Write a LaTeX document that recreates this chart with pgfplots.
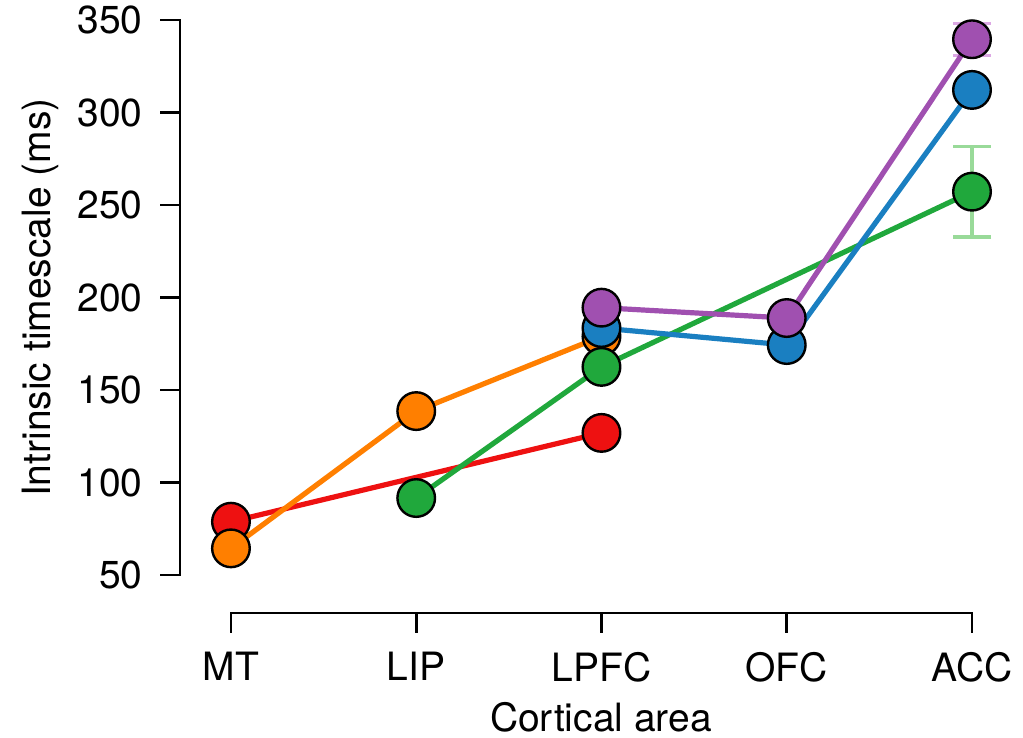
\documentclass[border=0pt]{standalone}
\usepackage{fontspec}
\setmainfont{TeX Gyre Heros}
\usepackage{pgfplots}
\pgfplotsset{compat=1.18}

\definecolor{cred}{HTML}{EE1111}
\definecolor{corange}{HTML}{FF7F00}
\definecolor{cgreen}{HTML}{20A83C}
\definecolor{cblue}{HTML}{1A7FC1}
\definecolor{cpurple}{HTML}{A050B0}
\definecolor{cgreenl}{HTML}{99DA99}
\definecolor{cpurplel}{HTML}{DCA8E4}

\begin{document}
\begin{tikzpicture}
\begin{axis}[
  scale only axis, width=396pt, height=296.5pt,
  xmin=-0.275, xmax=4, ymin=29.46, ymax=350,
  clip=false,
  font=\fontsize{19.5}{23}\selectfont,
  axis x line*=bottom, axis y line*=left,
  axis line style={draw=none},
  tick align=outside, major tick length=10pt,
  tick style={black, line width=1.4pt},
  xtick={0,1,2,3,4}, xticklabels={MT,LIP,LPFC,OFC,ACC},
  ytick={50,100,150,200,250,300,350},
  /pgf/number format/assume math mode=true,
  xticklabel style={inner sep=0pt, yshift=-9.5pt},
  yticklabel style={inner sep=0pt, xshift=-8.5pt},
  xlabel={Cortical area}, ylabel={Intrinsic timescale (ms)},
  xlabel style={at={(ticklabel cs:0.5316,6.5pt)}, anchor=near ticklabel},
  ylabel style={at={(ticklabel cs:0.532,6pt)}, anchor=near ticklabel},
  every axis plot/.append style={line width=2.6pt},
]
\draw[black, line width=1.4pt, line cap=rect] (axis cs:-0.275,50) -- (axis cs:-0.275,350);
\draw[black, line width=1.4pt, line cap=rect] (axis cs:0,29.46) -- (axis cs:4,29.46);

% error bars behind the markers
\addplot[cgreenl, line width=1.6pt, mark=none, forget plot,
  error bars/.cd, y dir=both, y explicit,
  error bar style={line width=1.6pt, cgreenl},
  error mark options={rotate=90, mark size=9.5pt, line width=1.6pt, cgreenl}]
  coordinates {(4,257.2) +- (0,24.5)};
\addplot[cpurplel, line width=1.6pt, mark=none, forget plot,
  error bars/.cd, y dir=both, y explicit,
  error bar style={line width=1.6pt, cpurplel},
  error mark options={rotate=90, mark size=9.5pt, line width=1.6pt, cpurplel}]
  coordinates {(4,339.6) +- (0,8.6)};

\addplot[cred, mark=*, mark size=9.4pt, mark options={draw=black, line width=1.2pt, fill=cred}]
  coordinates {(0,78.8) (2,126.8)};
\addplot[corange, mark=*, mark size=9.4pt, mark options={draw=black, line width=1.2pt, fill=corange}]
  coordinates {(0,64.4) (1,138.6) (2,179)};
\addplot[cgreen, mark=*, mark size=9.4pt, mark options={draw=black, line width=1.2pt, fill=cgreen}]
  coordinates {(1,91.6) (2,162.5) (4,257.2)};
\addplot[cblue, mark=*, mark size=9.4pt, mark options={draw=black, line width=1.2pt, fill=cblue}]
  coordinates {(2,183.5) (3,174.3) (4,312.2)};
\addplot[cpurple, mark=*, mark size=9.4pt, mark options={draw=black, line width=1.2pt, fill=cpurple}]
  coordinates {(2,194.5) (3,188.9) (4,339.6)};

\coordinate (bl) at (axis cs:-1.2467,-38.07);
\coordinate (tr) at (axis cs:4.2753,360.81);
\end{axis}
\pgfresetboundingbox
\path (bl) rectangle (tr);
\end{tikzpicture}
\end{document}
